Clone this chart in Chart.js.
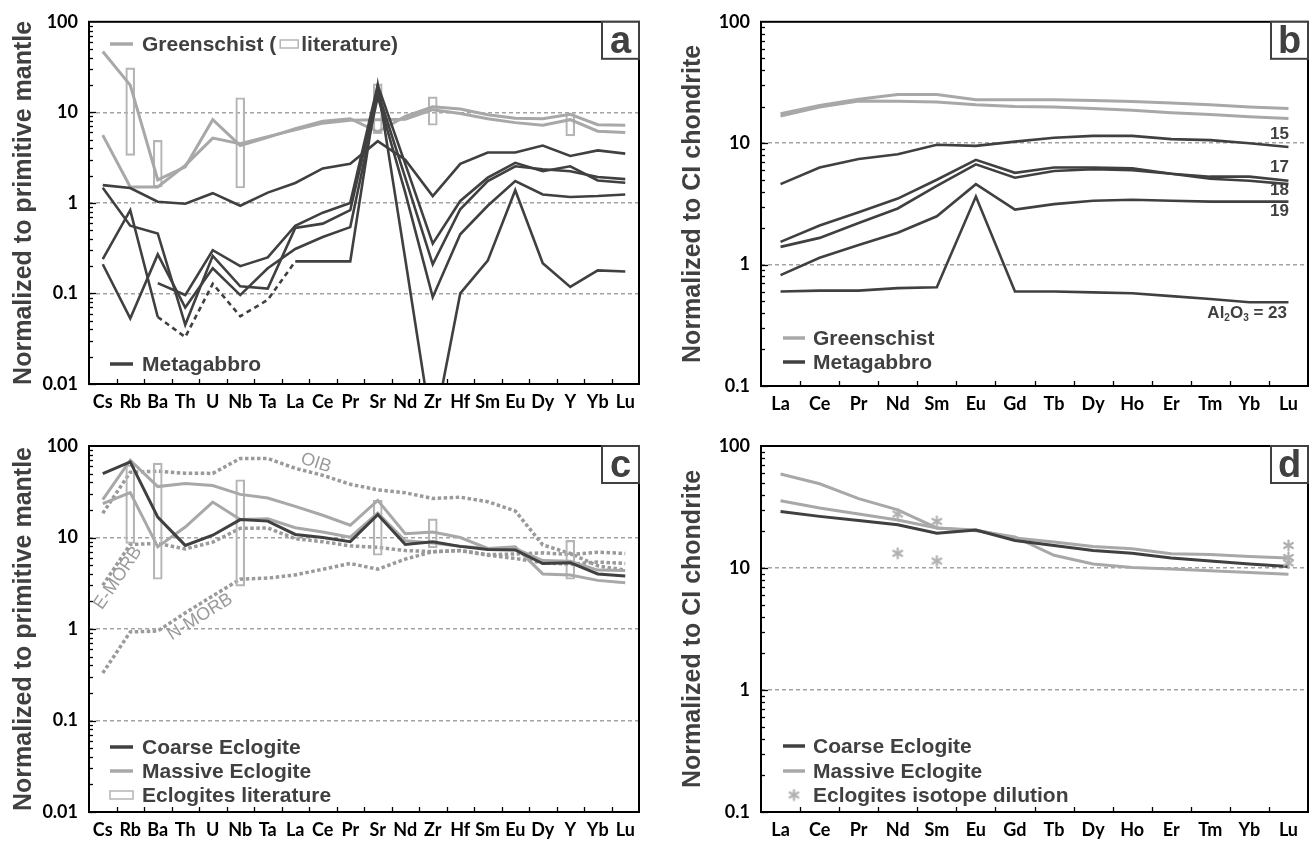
<!DOCTYPE html>
<html>
<head>
<meta charset="utf-8">
<script src="https://cdn.jsdelivr.net/npm/chart.js@4.4.1/dist/chart.umd.min.js"></script>
<style>
  html, body { margin: 0; padding: 0; background: #fff; }
  #wrap { position: relative; width: 1315px; height: 843px; }
  canvas { position: absolute; }
</style>
</head>
<body>
<div id="wrap">
  <canvas id="chartA" width="657" height="421" style="left:0;top:0"></canvas>
  <canvas id="chartB" width="658" height="421" style="left:657px;top:0"></canvas>
  <canvas id="chartC" width="657" height="422" style="left:0;top:421px"></canvas>
  <canvas id="chartD" width="658" height="422" style="left:657px;top:421px"></canvas>
</div>
<script>
// categories
const traceElements = ['Cs','Rb','Ba','Th','U','Nb','Ta','La','Ce','Pr','Sr','Nd','Zr','Hf','Sm','Eu','Dy','Y','Yb','Lu'];
const reeElements = ['La','Ce','Pr','Nd','Sm','Eu','Gd','Tb','Dy','Ho','Er','Tm','Yb','Lu'];
const yTicksMantle = [0.01, 0.1, 1, 10, 100];
const yTicksChondrite = [0.1, 1, 10, 100];

// panel a : greenschist
const greenschistA1 = [47, 20, 1.8, 2.5, 8.3, 4.3, 5.3, 6.6, 8.0, 8.5, 6.1, 9.0, 11.5, 10.9, 9.4, 8.6, 8.5, 9.5, 7.3, 7.2];
const greenschistA2 = [5.6, 1.5, 1.5, 2.6, 5.2, 4.5, 5.4, 6.4, 7.6, 8.2, 8.3, 8.4, 10.7, 9.7, 8.5, 7.7, 7.2, 8.3, 6.2, 6.0];
const greenschistLit = [null, [3.35, 31], [1.5, 4.9], null, null, [1.46, 14.5], null, null, null, null,
                        [5.8, 20.6], null, [7.2, 14.8], null, null, null, null, [5.5, 9.7], null, null];
// panel a : metagabbro
const metagabbroA1 = [1.57, 1.46, 1.03, 0.98, 1.28, 0.93, 1.3, 1.66, 2.4, 2.7, 4.8, 3.0, 1.19, 2.7, 3.6, 3.6, 4.3, 3.3, 3.8, 3.5];
const metagabbroA2 = [null, null, 0.13, 0.096, 0.30, 0.20, 0.25, 0.56, 0.78, 1.0, 20, 2.7, 0.355, 1.05, 1.9, 2.77, 2.24, 2.54, 1.77, 1.67];
const metagabbroA3 = [1.47, 0.56, 0.46, 0.045, 0.26, 0.12, 0.113, 0.53, 0.59, 0.83, 17, 1.9, 0.21, 0.85, 1.74, 2.54, 2.35, 2.24, 1.93, 1.83];
const metagabbroA4 = [0.21, 0.053, 0.27, 0.07, 0.19, 0.096, 0.19, 0.31, 0.42, 0.54, 15, 1.3, 0.091, 0.45, 0.93, 1.74, 1.24, 1.16, 1.19, 1.24];
const metagabbroA5 = [0.24, 0.83, 0.055, 0.033, 0.128, 0.056, 0.085, 0.226, 0.226, 0.226, 20, 0.24, 0.0027, 0.1, 0.23, 1.38, 0.216, 0.118, 0.18, 0.175];

// panel b
const greenschistB1 = [17.5, 20.5, 23, 25.2, 25.2, 22.8, 22.8, 22.8, 22.5, 22.1, 21.4, 20.7, 19.9, 19.3];
const greenschistB2 = [16.7, 19.9, 22.3, 22.2, 21.8, 20.7, 20.1, 19.9, 19.3, 18.7, 17.8, 17.2, 16.5, 16.0];
const metagabbro15 = [4.6, 6.3, 7.4, 8.1, 9.7, 9.5, 10.3, 11.1, 11.5, 11.5, 10.8, 10.6, 10.0, 9.3];
const metagabbro17 = [1.54, 2.1, 2.7, 3.5, 5.0, 7.3, 5.7, 6.3, 6.3, 6.2, 5.6, 5.3, 5.3, 4.9];
const metagabbro18 = [1.40, 1.66, 2.2, 2.9, 4.45, 6.7, 5.2, 5.9, 6.1, 6.0, 5.6, 5.1, 4.9, 4.6];
const metagabbro19 = [0.82, 1.14, 1.45, 1.83, 2.5, 4.6, 2.84, 3.15, 3.36, 3.42, 3.36, 3.3, 3.3, 3.3];
const metagabbro23 = [0.60, 0.61, 0.61, 0.64, 0.65, 3.64, 0.60, 0.60, 0.59, 0.58, 0.55, 0.52, 0.49, 0.49];

// panel c
const coarseC = [50, 67, 16.7, 8.2, 10.6, 15.7, 15.1, 10.8, 10.0, 9.0, 17.8, 8.4, 9.0, 8.0, 7.4, 7.3, 5.2, 5.3, 4.0, 3.8];
const massiveC1 = [26, 70, 36, 39, 37, 29.6, 27, 21.9, 17.5, 13.6, 25.5, 11.0, 11.5, 10.0, 7.6, 7.6, 5.6, 5.5, 4.4, 4.35];
const massiveC2 = [23.5, 31, 7.9, 13, 24.4, 15.7, 16, 12.8, 11.5, 10.1, 18.5, 9.2, 8.7, 8.0, 7.6, 7.9, 4.0, 3.9, 3.4, 3.2];
const eclogiteLit = [null, [8.6, 62], [3.5, 65], null, null, [2.94, 42.8], null, null, null, null,
                     [6.4, 25.5], null, [7.7, 16], null, null, null, null, [3.5, 9.3], null, null];
const oib = [18.4, 51.7, 53, 50.3, 50.2, 73, 73, 57, 47.8, 38.2, 33.2, 30.8, 26.7, 27.6, 24.6, 19.5, 8.3, 6.7, 4.9, 4.4];
const eMorb = [3.0, 8.4, 8.6, 7.5, 8.9, 12.6, 12.7, 9.7, 9.0, 8.1, 7.8, 7.2, 7.0, 7.2, 6.4, 5.9, 5.3, 5.1, 5.4, 5.2];
const nMorb = [0.33, 0.93, 0.95, 1.5, 2.3, 3.5, 3.6, 3.9, 4.5, 5.2, 4.5, 5.8, 7.0, 7.2, 6.5, 6.6, 6.8, 6.5, 6.9, 6.7];

// panel d
const coarseD = [29.1, 26.5, 24.5, 22.6, 19.3, 20.5, 16.8, 15.3, 13.9, 13.2, 12.1, 11.4, 10.8, 10.3];
const massiveD1 = [59, 49, 37, 30, 21.3, 20.2, 18.0, 12.7, 10.8, 10.1, 9.8, 9.5, 9.2, 8.9];
const massiveD2 = [35.6, 31, 27.7, 24.7, 21.3, 20.5, 17.6, 16.3, 15.0, 14.4, 13.1, 12.9, 12.4, 12.1];
const isotopeD1 = [null, null, null, 27.7, 24.1, null, null, null, null, null, null, null, null, 15.3];
const isotopeD2 = [null, null, null, 13.2, 11.4, null, null, null, null, null, null, null, null, 12.2];
const isotopeD3 = [null, null, null, null, null, null, null, null, null, null, null, null, null, 11.0];

const DARK = '#404040';
const LIGHT = '#a8a8a8';
const DOTTED = '#9a9a9a';
const BOX = '#b5b5b5';
const tickFont = { family: 'Lato', weight: 'bold', size: 18 };
const titleFont = { family: 'Liberation Sans', weight: 'bold', size: 25 };

function makeAsterisk(size, color) {
  const c = document.createElement('canvas');
  c.width = c.height = size;
  const g = c.getContext('2d');
  g.strokeStyle = color; g.lineWidth = 2.2; g.lineCap = 'round';
  const r = size / 2 - 1.5;
  for (let k = 0; k < 3; k++) {
    const a = Math.PI / 2 + k * Math.PI / 3;
    g.beginPath();
    g.moveTo(size / 2 + r * Math.cos(a), size / 2 + r * Math.sin(a));
    g.lineTo(size / 2 - r * Math.cos(a), size / 2 - r * Math.sin(a));
    g.stroke();
  }
  return c;
}
const asterisk = makeAsterisk(13, '#b0b0b0');

// frame, inside ticks, panel letter, legends and notes
const decor = {
  id: 'decor',
  afterDraw(chart, args, opts) {
    const { ctx, chartArea: a, scales } = chart;
    ctx.save();
    ctx.strokeStyle = '#000';
    ctx.lineWidth = 1.3;
    const ys = scales.y;
    for (let k = Math.floor(Math.log10(ys.min)); k < Math.log10(ys.max); k++) {
      for (let m = 1; m < 10; m++) {
        const v = m * Math.pow(10, k);
        if (v < ys.min * 0.999 || v > ys.max * 1.001) continue;
        const y = Math.round(ys.getPixelForValue(v)) + 0.5;
        ctx.beginPath(); ctx.moveTo(a.left, y); ctx.lineTo(a.left + (m === 1 ? 7 : 4), y); ctx.stroke();
      }
    }
    const xs = scales.x;
    for (let i = 0; i < xs.ticks.length - 1; i++) {
      const x = Math.round((xs.getPixelForValue(i) + xs.getPixelForValue(i + 1)) / 2) + 0.5;
      ctx.beginPath(); ctx.moveTo(x, a.bottom); ctx.lineTo(x, a.bottom - 5); ctx.stroke();
    }
    ctx.lineWidth = 2;
    ctx.strokeRect(a.left, a.top, a.right - a.left, a.bottom - a.top);

    // panel letter
    const bw = 37, bh = 37;
    ctx.fillStyle = '#fff';
    ctx.fillRect(a.right - bw, a.top, bw, bh);
    ctx.strokeStyle = DARK; ctx.lineWidth = 2;
    ctx.strokeRect(a.right - bw, a.top, bw, bh);
    ctx.fillStyle = DARK;
    ctx.font = 'bold 38px "Liberation Sans"';
    ctx.textAlign = 'center'; ctx.textBaseline = 'alphabetic';
    ctx.fillText(opts.letter, a.right - bw / 2, a.top + 31);

    // legend
    ctx.font = 'bold 21px "Liberation Sans"';
    ctx.textAlign = 'left'; ctx.textBaseline = 'middle';
    (opts.legend || []).forEach(e => {
      if (e.sample === 'line') {
        ctx.strokeStyle = e.color; ctx.lineWidth = 3.5;
        ctx.beginPath(); ctx.moveTo(e.x0, e.y); ctx.lineTo(e.x1, e.y); ctx.stroke();
      } else if (e.sample === 'box') {
        ctx.strokeStyle = BOX; ctx.lineWidth = 1.5;
        ctx.strokeRect(e.x0, e.y - 4, e.x1 - e.x0, 8);
      } else if (e.sample === 'star') {
        ctx.drawImage(asterisk, (e.x0 + e.x1) / 2 - asterisk.width / 2, e.y - asterisk.height / 2);
      }
      let x = e.tx;
      ctx.fillStyle = DARK;
      e.parts.forEach(p => {
        if (typeof p === 'string') {
          ctx.fillText(p, x, e.y + 1);
          x += ctx.measureText(p).width;
        } else {
          ctx.strokeStyle = BOX; ctx.lineWidth = 1.5;
          ctx.strokeRect(x + 4, e.y - 4, 18, 8);
          x += 25;
        }
      });
    });

    // notes
    (opts.notes || []).forEach(n => {
      ctx.save();
      ctx.translate(n.x, n.y);
      ctx.rotate((n.rot || 0) * Math.PI / 180);
      ctx.fillStyle = n.color;
      ctx.textBaseline = 'middle';
      const parts = n.parts || [[n.text, false]];
      const big = n.font, small = n.small || n.font;
      let w = 0;
      parts.forEach(p => { ctx.font = p[1] ? small : big; w += ctx.measureText(p[0]).width; });
      let x = n.align === 'right' ? -w : (n.align === 'left' ? 0 : -w / 2);
      ctx.textAlign = 'left';
      parts.forEach(p => {
        ctx.font = p[1] ? small : big;
        ctx.fillText(p[0], x, p[1] ? 5 : 0);
        x += ctx.measureText(p[0]).width;
      });
      ctx.restore();
    });
    ctx.restore();
  }
};

function logAxis(min, max, tickVals, width, titleText, titlePad) {
  return {
    type: 'logarithmic', min: min, max: max, position: 'left',
    afterBuildTicks: s => { s.ticks = tickVals.map(v => ({ value: v })); },
    afterFit: s => { s.width = width; },
    ticks: { font: tickFont, color: '#000', padding: 11, callback: v => String(v) },
    grid: {
      drawTicks: false, lineWidth: 1.5,
      color: c => (c.tick && (c.tick.value <= min * 1.001 || c.tick.value >= max * 0.999)) ? 'rgba(0,0,0,0)' : '#a3a3a3'
    },
    border: { display: false, dash: [4, 3] },
    title: { display: true, text: titleText, color: DARK, font: titleFont, padding: { top: titlePad, bottom: 0 } }
  };
}

function catAxis(labels, height) {
  return {
    type: 'category', labels: labels, offset: true,
    afterFit: s => { s.height = height; },
    grid: { display: false, drawTicks: false },
    border: { display: false },
    ticks: { font: tickFont, color: '#000', padding: 7, autoSkip: false, maxRotation: 0 }
  };
}

function line(data, color, width, extra) {
  return Object.assign({
    type: 'line', data: data, borderColor: color, backgroundColor: color, borderWidth: width,
    pointRadius: 0, fill: false, tension: 0, order: 1
  }, extra || {});
}

function boxes(data) {
  return {
    type: 'bar', data: data, backgroundColor: 'rgba(0,0,0,0)', borderColor: BOX, borderWidth: 1.5,
    borderSkipped: false, barThickness: 9, grouped: false, order: 3
  };
}

function baseOptions(padding, x, y, decorOpts) {
  return {
    responsive: false, animation: false, events: [],
    layout: { padding: padding },
    plugins: { legend: { display: false }, tooltip: { enabled: false }, decor: decorOpts },
    scales: { x: x, y: y }
  };
}

const noteFont = 'bold 17px "Liberation Sans"';
const refFont = '18px "Liberation Sans"';

// panel a
new Chart(document.getElementById('chartA'), {
  type: 'line',
  data: {
    datasets: [
      line(metagabbroA1, DARK, 2.6),
      line(metagabbroA2, DARK, 2.6),
      line(metagabbroA3, DARK, 2.6),
      line(metagabbroA4, DARK, 2.6),
      line(metagabbroA5, DARK, 2.6, {
        segment: { borderDash: c => (c.p0DataIndex >= 2 && c.p1DataIndex <= 7) ? [5, 4] : undefined }
      }),
      line(greenschistA1, LIGHT, 3, { order: 2 }),
      line(greenschistA2, LIGHT, 3, { order: 2 }),
      boxes(greenschistLit)
    ]
  },
  options: baseOptions({ left: 0, top: 19, right: 18, bottom: 0 },
    catAxis(traceElements, 37),
    logAxis(0.01, 100, yTicksMantle, 89, 'Normalized to primitive mantle', 9),
    {
      letter: 'a',
      legend: [
        { sample: 'line', color: LIGHT, x0: 110, x1: 133, tx: 142, y: 44, parts: ['Greenschist (', 'BOX', 'literature)'].map(p => p === 'BOX' ? {} : p) },
        { sample: 'line', color: DARK, x0: 110, x1: 133, tx: 142, y: 364, parts: ['Metagabbro'] }
      ]
    })
  ,
  plugins: [decor]
});

// panel b
new Chart(document.getElementById('chartB'), {
  type: 'line',
  data: {
    datasets: [
      line(metagabbro15, DARK, 2.6),
      line(metagabbro17, DARK, 2.6),
      line(metagabbro18, DARK, 2.6),
      line(metagabbro19, DARK, 2.6),
      line(metagabbro23, DARK, 2.6),
      line(greenschistB1, LIGHT, 3, { order: 2 }),
      line(greenschistB2, LIGHT, 3, { order: 2 })
    ]
  },
  options: baseOptions({ left: 0, top: 18, right: 7, bottom: 0 },
    catAxis(reeElements, 35),
    logAxis(0.1, 100, yTicksChondrite, 104, 'Normalized to CI chondrite', 21),
    {
      letter: 'b',
      legend: [
        { sample: 'line', color: LIGHT, x0: 126, x1: 148, tx: 156, y: 338, parts: ['Greenschist'] },
        { sample: 'line', color: DARK, x0: 126, x1: 148, tx: 156, y: 362, parts: ['Metagabbro'] }
      ],
      notes: [
        { text: '15', x: 632, y: 134, font: noteFont, color: DARK, align: 'right' },
        { text: '17', x: 632, y: 167, font: noteFont, color: DARK, align: 'right' },
        { text: '18', x: 632, y: 190, font: noteFont, color: DARK, align: 'right' },
        { text: '19', x: 632, y: 211, font: noteFont, color: DARK, align: 'right' },
        { parts: [['Al', false], ['2', true], ['O', false], ['3', true], [' = 23', false]], x: 630, y: 313,
          font: noteFont, small: 'bold 10px "Liberation Sans"', color: DARK, align: 'right' }
      ]
    }),
  plugins: [decor]
});

// panel c
new Chart(document.getElementById('chartC'), {
  type: 'line',
  data: {
    datasets: [
      line(coarseC, DARK, 3),
      line(massiveC1, LIGHT, 3, { order: 2 }),
      line(massiveC2, LIGHT, 3, { order: 2 }),
      line(oib, DOTTED, 3.5, { order: 4, borderDash: [3.5, 2.5] }),
      line(eMorb, DOTTED, 3.5, { order: 4, borderDash: [3.5, 2.5] }),
      line(nMorb, DOTTED, 3.5, { order: 4, borderDash: [3.5, 2.5] }),
      boxes(eclogiteLit)
    ]
  },
  options: baseOptions({ left: 0, top: 25, right: 18, bottom: 0 },
    catAxis(traceElements, 31),
    logAxis(0.01, 100, yTicksMantle, 89, 'Normalized to primitive mantle', 9),
    {
      letter: 'c',
      legend: [
        { sample: 'line', color: DARK, x0: 110, x1: 133, tx: 142, y: 326, parts: ['Coarse Eclogite'] },
        { sample: 'line', color: LIGHT, x0: 110, x1: 133, tx: 142, y: 350, parts: ['Massive Eclogite'] },
        { sample: 'box', x0: 110, x1: 133, tx: 142, y: 374, parts: ['Eclogites literature'] }
      ],
      notes: [
        { text: 'OIB', x: 316, y: 42, rot: 18, font: refFont, color: DOTTED },
        { text: 'E-MORB', x: 118, y: 157, rot: -56, font: refFont, color: DOTTED },
        { text: 'N-MORB', x: 200, y: 196, rot: -32, font: refFont, color: DOTTED }
      ]
    }),
  plugins: [decor]
});

// panel d
const starSet = data => line(data, '#b0b0b0', 0, { showLine: false, pointRadius: 6, pointStyle: asterisk, order: 0 });
new Chart(document.getElementById('chartD'), {
  type: 'line',
  data: {
    datasets: [
      line(coarseD, DARK, 3),
      line(massiveD1, LIGHT, 3, { order: 2 }),
      line(massiveD2, LIGHT, 3, { order: 2 }),
      starSet(isotopeD1),
      starSet(isotopeD2),
      starSet(isotopeD3)
    ]
  },
  options: baseOptions({ left: 0, top: 25, right: 7, bottom: 0 },
    catAxis(reeElements, 31),
    logAxis(0.1, 100, yTicksChondrite, 104, 'Normalized to CI chondrite', 21),
    {
      letter: 'd',
      legend: [
        { sample: 'line', color: DARK, x0: 126, x1: 148, tx: 156, y: 325, parts: ['Coarse Eclogite'] },
        { sample: 'line', color: LIGHT, x0: 126, x1: 148, tx: 156, y: 350, parts: ['Massive Eclogite'] },
        { sample: 'star', x0: 126, x1: 148, tx: 156, y: 374, parts: ['Eclogites isotope dilution'] }
      ]
    }),
  plugins: [decor]
});
</script>
</body>
</html>
